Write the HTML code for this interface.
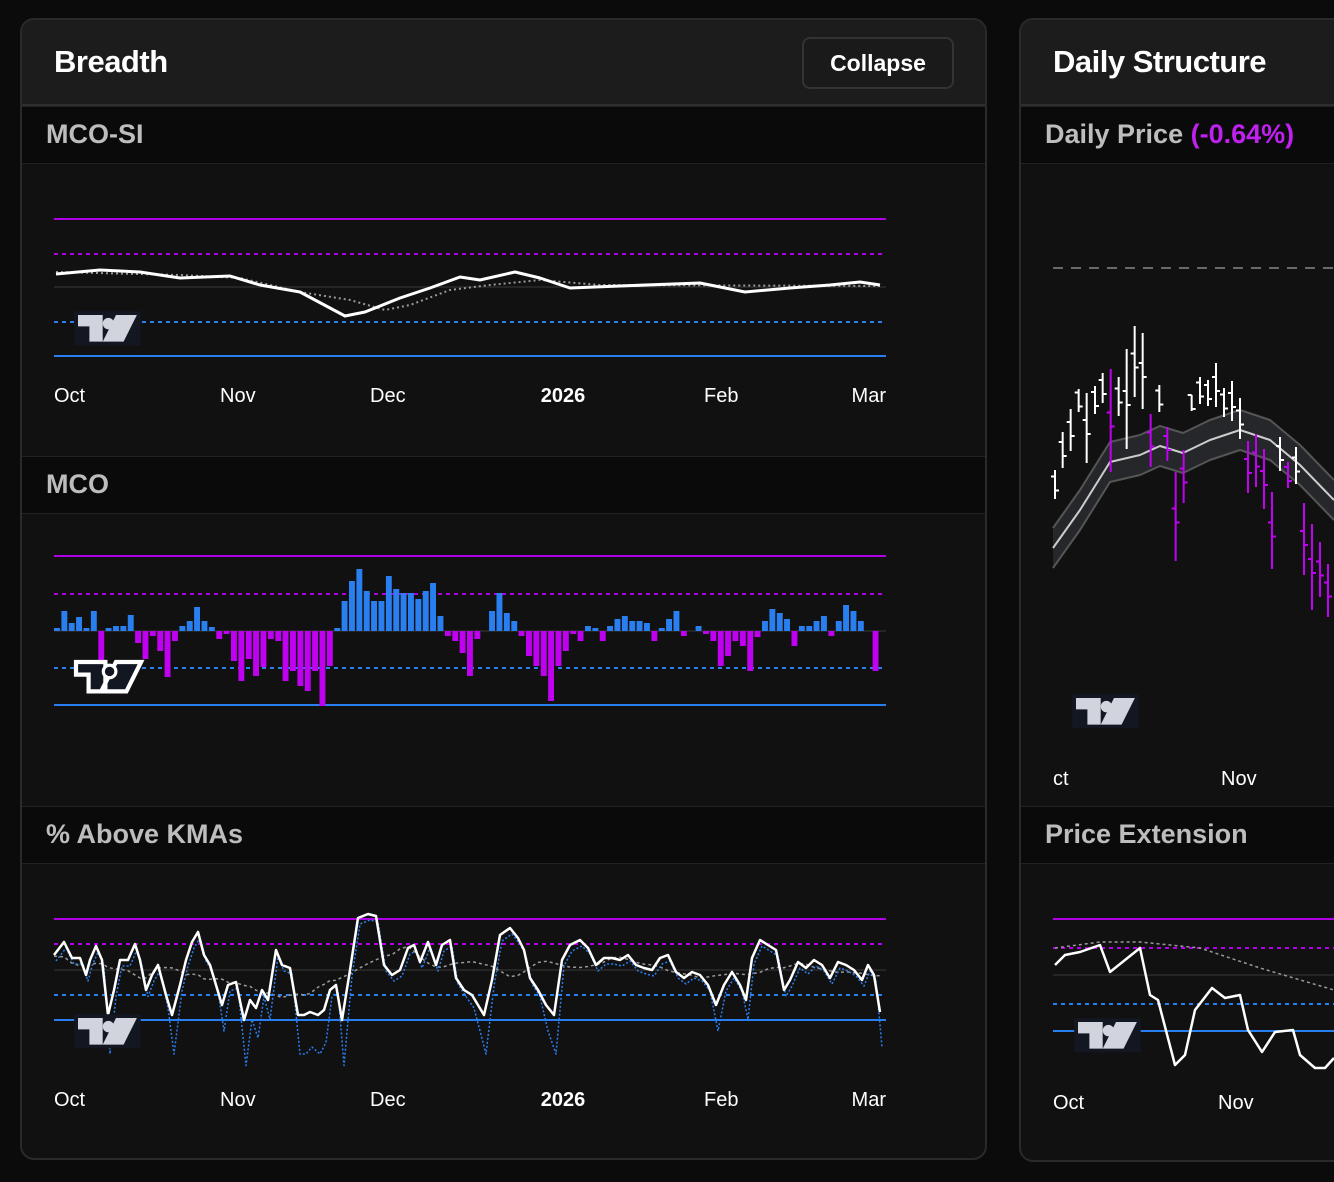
<!DOCTYPE html>
<html><head><meta charset="utf-8"><style>
*{margin:0;padding:0;box-sizing:border-box}
body{width:1334px;height:1182px;background:#0b0b0b;font-family:"Liberation Sans",sans-serif;overflow:hidden;position:relative}
.card{position:absolute;top:18px;border:2px solid #2a2a2a;border-radius:14px;overflow:hidden;background:#111}
.hdr{position:absolute;left:0;right:0;top:0;height:86px;background:#1c1c1c;border-bottom:2px solid #2e2e2e}
.hdr .t{position:absolute;left:32px;top:24px;color:#fff;font-size:31px;font-weight:bold;letter-spacing:-0.5px}
.btn{position:absolute;left:780px;top:17px;width:152px;height:52px;border:2px solid #333;border-radius:8px;color:#fff;font-size:23px;font-weight:bold;text-align:center;line-height:48px;background:#1a1a1a}
.sh{position:absolute;left:0;right:0;height:58px;background:#0a0a0a;border-bottom:1px solid #222;border-top:1px solid #222}
.sh span{position:absolute;left:24px;top:12px;color:#bdbdbd;font-size:27px;font-weight:bold}
svg{position:absolute;left:0;top:0}
</style></head><body>
<div class="card" style="left:20px;width:967px;height:1142px">
<div class="hdr"><div class="t">Breadth</div><div class="btn">Collapse</div></div>
<div class="sh" style="top:86px"><span>MCO-SI</span></div>
<div class="sh" style="top:436px"><span>MCO</span></div>
<div class="sh" style="top:786px"><span>% Above KMAs</span></div>
</div>
<div class="card" style="left:1019px;width:340px;height:1144px">
<div class="hdr"><div class="t">Daily Structure</div></div>
<div class="sh" style="top:86px"><span>Daily Price <span style="position:static;color:#c020f0">(-0.64%)</span></span></div>
<div class="sh" style="top:786px"><span>Price Extension</span></div>
</div>
<svg id="s" width="1334" height="1182" xmlns="http://www.w3.org/2000/svg"></svg>
<script>
var s='';
function L(x1,x2,y,c,d,w){s+='<line x1="'+x1+'" x2="'+x2+'" y1="'+y+'" y2="'+y+'" stroke="'+c+'" stroke-width="'+(w||2)+'"'+(d?' stroke-dasharray="'+d+'"':'')+'/>';}
function P(pts,c,w,d){s+='<polyline fill="none" stroke="'+c+'" stroke-width="'+w+'" stroke-linejoin="round"'+(d?' stroke-dasharray="'+d+'"':'')+' points="'+pts.map(function(p){return p.join(',')}).join(' ')+'"/>';}
function T(x,y,t,b,a){s+='<text x="'+x+'" y="'+y+'" fill="#fff" font-size="20" font-family="Liberation Sans" '+(b?'font-weight="bold" ':'')+'text-anchor="'+(a||'start')+'">'+t+'</text>';}
function G(x,y,sc,outline){s+='<g transform="translate('+x+','+y+') scale('+sc+')">';
 if(outline){s+='<path d="M0 0H28V28H12V12H0Z M38 0H62L48 28H24Z" fill="#131722" stroke="#fff" stroke-width="4"/><circle cx="32" cy="9" r="6" fill="#131722" stroke="#fff" stroke-width="3"/>';}
 else{s+='<rect x="-4" y="-4" width="70" height="36" fill="#131722"/><path d="M0 0H26V28H12V12H0Z M40 0H62L48 28H26Z" fill="#d1d4dc"/><circle cx="32" cy="9" r="6" fill="#d1d4dc"/>';}
 s+='</g>';}
function axes(y,a,b,c,d,e){L(54,886,a,'#b000e8');L(54,886,b,'#b000e8','4 4');L(54,886,c,'#2c2c2c',0,1.5);L(54,886,d,'#2a7ff0','4 4');L(54,886,e,'#2a7ff0');}
function xl(y){T(54,y,'Oct');T(220,y,'Nov');T(370,y,'Dec');T(563,y,'2026',1,'middle');T(704,y,'Feb');T(886,y,'Mar',0,'end');}
// MCO-SI
axes(0,219,254,287,322,356);
P([[56,272],[180,275],[240,278],[300,292],[350,300],[385,310],[410,305],[450,290],[490,285],[540,280],[600,285],[880,286]],'#999',2,'2 3');
P([[56,274],[100,270],[140,272],[180,278],[230,276],[260,285],[300,292],[345,316],[365,312],[400,298],[430,288],[460,277],[480,280],[515,272],[540,278],[570,288],[620,286],[700,283],[745,292],[790,288],[830,285],[860,282],[880,285]],'#fff',3);
G(78,315,0.95);xl(402);
// MCO
axes(0,556,594,631,668,705);
var v=[3,20,8,14,3,20,-30,3,5,5,16,-12,-28,-5,-20,-46,-10,5,10,24,10,4,-8,-3,-30,-50,-28,-45,-36,-8,-10,-50,-40,-55,-60,-40,-75,-35,3,30,50,62,40,30,30,55,42,38,38,32,40,48,15,-5,-10,-22,-45,-8,0,20,38,18,10,-5,-25,-35,-45,-70,-35,-20,-3,-10,5,3,-10,5,12,15,10,10,8,-10,3,12,20,-5,0,5,-3,-10,-35,-25,-10,-15,-40,-6,10,22,18,12,-15,5,5,10,15,-5,10,26,20,10,0,-40];
var step=826/v.length;
v.forEach(function(h,i){var x=54+i*step;s+='<rect x="'+x.toFixed(1)+'" y="'+(h>0?631-h:631)+'" width="'+(step-1.5).toFixed(1)+'" height="'+Math.abs(h)+'" fill="'+(h>0?'#2a7ff0':'#c000f0')+'"/>';});
G(76,662,1.05,1);
// % above
axes(0,919,944,970,995,1020);
var w=[[54,955],[64,942],[72,958],[80,958],[86,975],[90,960],[96,946],[102,960],[108,1015],[114,990],[120,960],[128,960],[135,944],[140,960],[146,990],[152,975],[158,965],[166,995],[172,1015],[180,985],[186,960],[192,942],[198,932],[204,955],[210,965],[216,985],[222,1005],[228,985],[236,982],[244,1020],[250,1000],[256,1008],[262,990],[268,1000],[276,950],[282,965],[290,968],[298,1015],[304,1015],[310,1012],[318,1015],[324,1010],[330,990],[336,985],[342,1020],[350,970],[358,918],[368,914],[376,916],[384,965],[392,975],[400,970],[408,948],[414,945],[420,962],[428,942],[436,965],[442,945],[450,940],[456,978],[464,990],[472,995],[484,1015],[492,980],[500,935],[510,928],[518,938],[524,950],[530,978],[538,990],[546,1005],[554,1015],[562,960],[570,945],[580,940],[588,948],[596,965],[604,958],[612,958],[620,960],[628,955],[636,965],[644,968],[652,970],[660,958],[668,955],[676,972],[684,978],[692,972],[700,975],[708,985],[716,1005],[724,985],[732,972],[740,985],[746,1000],[752,958],[760,940],[768,945],[776,950],[784,990],[790,980],[798,962],[806,968],[814,960],[822,965],[830,978],[838,962],[846,965],[854,970],[862,980],[868,965],[874,975],[880,1012]];
var g=w.map(function(p,i){var a=0,n=0;for(var j=Math.max(0,i-6);j<=Math.min(w.length-1,i+6);j++){a+=w[j][1];n++;}return [p[0],a/n];});
P(g,'#999',1.5,'3 3');
P(w.map(function(p){return [p[0]+2,p[1]>985?p[1]+(p[1]-985)*1.3:p[1]+6];}),'#2a7ff0',1.5,'2 2');
P(w,'#fff',2.5);
G(78,1018,0.95);xl(1106);
// Daily price
L(1053,1334,268,'#888','10 8',1.5);
var c=[[1053,548],[1080,510],[1110,462],[1140,455],[1160,446],[1183,453],[1210,440],[1240,430],[1270,440],[1300,465],[1334,500]];
var up=c.map(function(p){return [p[0],p[1]-20]}),dn=c.map(function(p){return [p[0],p[1]+20]});
s+='<polygon fill="#26272b" points="'+up.concat(dn.slice().reverse()).map(function(p){return p.join(',')}).join(' ')+'"/>';
P(up,'#555',2);P(dn,'#555',2);P(c,'#ccc',2);
var b=[[165,470,499,0],[188,432,468,0],[212,409,451,0],[236,389,412,0],[260,393,463,0],[285,386,414,0],[308,373,403,0],[332,369,472,1],[356,377,416,0],[380,349,449,0],[404,326,397,0],[428,333,409,0],[452,414,467,1],[478,385,412,0],[502,427,461,1],[527,472,561,1],[551,450,503,1],[575,395,411,0],[600,377,404,0],[624,380,406,0],[648,363,407,0],[672,388,417,0],[696,381,421,0],[720,398,439,0],[744,441,493,1],[768,434,487,1],[792,449,509,1],[816,492,569,1],[840,437,471,0],[864,462,488,1],[888,447,484,0],[912,503,575,1],[936,524,610,1],[960,542,597,1],[984,564,617,1]];
b.forEach(function(r){var x=1000+r[0]/3,col=r[3]?'#c000f0':'#fff',m=(r[1]+r[2])/2;s+='<line x1="'+x+'" x2="'+x+'" y1="'+r[1]+'" y2="'+r[2]+'" stroke="'+col+'" stroke-width="2"/><line x1="'+(x-4)+'" x2="'+x+'" y1="'+(m-8)+'" y2="'+(m-8)+'" stroke="'+col+'" stroke-width="2"/><line x1="'+x+'" x2="'+(x+4)+'" y1="'+(m+6)+'" y2="'+(m+6)+'" stroke="'+col+'" stroke-width="2"/>';});
G(1076,698,0.95);T(1053,785,'ct');T(1221,785,'Nov');
// Price extension
L(1053,1334,919,'#b000e8');L(1053,1334,948,'#b000e8','4 4');L(1053,1334,975,'#2c2c2c',0,1.5);L(1053,1334,1004,'#2a7ff0','4 4');L(1053,1334,1031,'#2a7ff0');
P([[1055,948],[1100,942],[1140,942],[1200,948],[1260,968],[1334,990]],'#999',1.5,'3 3');
P([[1055,965],[1065,955],[1080,952],[1100,945],[1110,972],[1125,960],[1140,948],[1150,995],[1158,1000],[1175,1065],[1185,1055],[1195,1010],[1212,988],[1225,998],[1240,995],[1248,1030],[1262,1052],[1275,1032],[1293,1030],[1300,1055],[1315,1068],[1325,1068],[1334,1058]],'#fff',2.5);
G(1078,1022,0.95);T(1053,1109,'Oct');T(1218,1109,'Nov');
document.getElementById('s').innerHTML=s;
</script>
</body></html>
